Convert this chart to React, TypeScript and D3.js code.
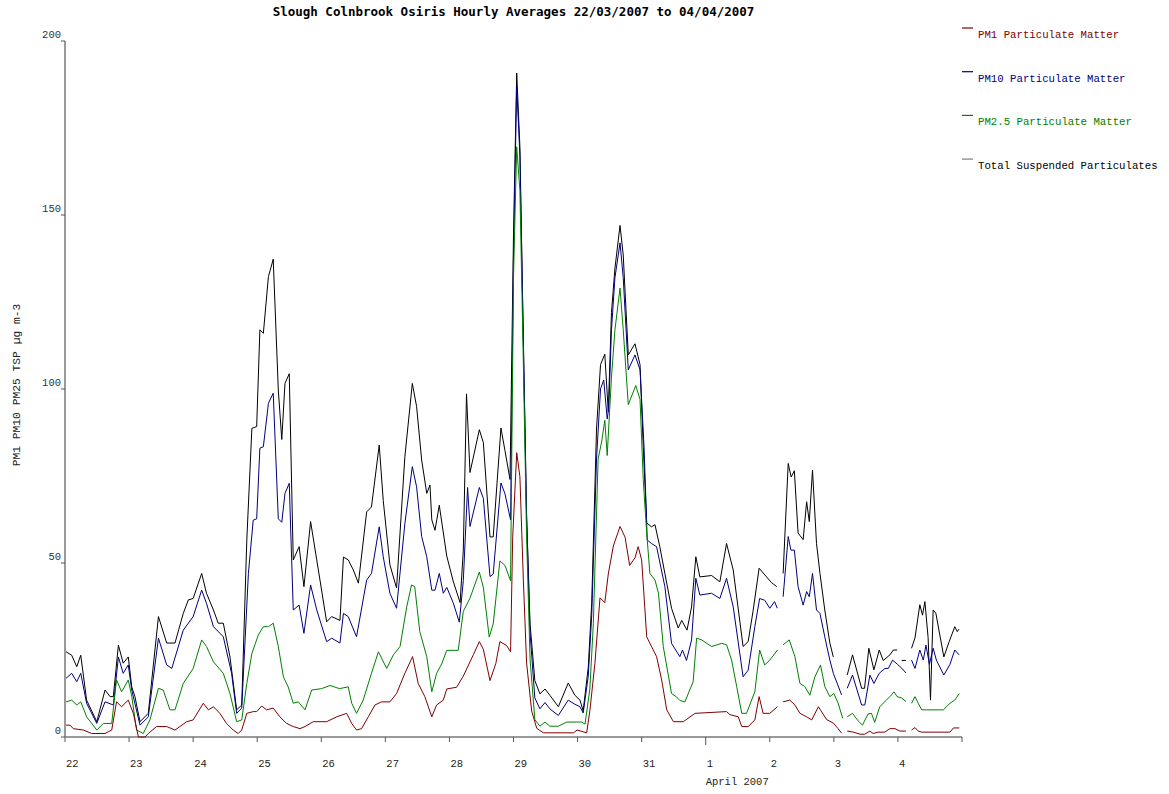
import React from "react";
import * as d3 from "d3";

type Pt = [number, number | null];

// hours since 22/03/2007 00:00, value in µg m-3 (null = gap)
const tspData: Pt[] = [
  [0.4, 24.5], [2.5, 23.5], [4.4, 20.2], [5.9, 23.5], [8.1, 10.6], [11.9, 4.4], [15, 13.5], [16.9, 11.6], [18.1, 11.6],
  [20, 26.4], [21.8, 21.2], [23.7, 23], [25, 14.4], [26.2, 11.6], [28.1, 4.4], [31.2, 6.8], [35, 34.6], [38.1, 27],
  [41.2, 27], [44.3, 35.5], [46.2, 39.4], [48, 39.8], [51.2, 47], [53, 41.3], [55.6, 36.5], [57.4, 32.7], [59.3, 32.7],
  [61.8, 23], [64.3, 7.8], [66.2, 9.2], [68.1, 56.6], [70, 88.7], [71.8, 89.2], [73, 117], [74.3, 116], [76.2, 132.3],
  [78, 137.3], [79.9, 99.7], [81.2, 85.5], [82.4, 101.6], [84, 104.4], [85.5, 50.9], [87.7, 54.7], [89.5, 43.2],
  [92, 61.9], [94.3, 50.9], [98, 33.1], [99.9, 34.6], [103, 33.5], [104.3, 51.7], [106.1, 50.9], [108, 48],
  [109.9, 44.2], [113, 64.7], [114.8, 66.1], [117.7, 83.9], [119.2, 68], [121.7, 49.5], [124.2, 42.8], [127.3, 80.5],
  [130.1, 101.6], [131.7, 95], [133.6, 79.6], [135.5, 70], [136.7, 72.4], [137.4, 62.4], [138.6, 59.4], [140.2, 66.6],
  [143, 52], [145.4, 44.8], [148, 38.6], [149.2, 53.7], [150.4, 98.6], [151.7, 76], [155.2, 88.3], [156.7, 84.6],
  [159.2, 57.5], [160.4, 57.5], [163.3, 88.8], [164.8, 82.3], [166.7, 74], [168, 144.6], [169.2, 190.8], [170.4, 169.5],
  [171.7, 113.5], [172.9, 63.6], [174.2, 32.5], [176, 16.2], [177.9, 12.4], [179.8, 13.8], [181.6, 12], [184.8, 8.7],
  [188.5, 15.5], [191, 12], [192.9, 10.6], [194.1, 7.5], [196, 20], [197.3, 38.6], [199.1, 88.5], [200.6, 107],
  [202.2, 110], [203.5, 93.5], [204.7, 122], [206, 134.7], [207.9, 147], [209.1, 138.5], [211, 109.8], [213.5, 113],
  [215.4, 107], [216.6, 83.4], [217.9, 61.5], [219.7, 60.4], [221, 61], [222.8, 54.7], [224.7, 47], [227.2, 37],
  [229.7, 31.3], [231, 33.5], [233, 30.7], [234.7, 37.4], [236.3, 51.8], [237.8, 46], [242.2, 46.4], [245.3, 44.6],
  [247.8, 55.6], [250.3, 48], [254, 26], [255.9, 27.4], [257.8, 36.5], [260, 48.5], [262.8, 46], [264.6, 44.4],
  [266.6, 43.2], [267.8, null], [269, 47], [270.9, 78.6], [272, 74.7], [273.2, 76.5], [274.6, 58.6], [276.5, 56.7],
  [277.8, 67.6], [278.8, 61.9], [280, 76.7], [281.5, 55.6], [282.8, 47], [284.6, 36.5], [286.5, 27], [287.8, 23],
  [290, null], [293, 17.8], [295, 23.6], [298.4, 14], [299.5, 14], [301.1, 25.5], [303, 19.3], [305, 25], [306.5, 22],
  [309, 23.6], [310.3, 25], [311.7, 25], [312.6, null], [313.4, 22], [315, 22], [316, null], [317.1, 25.5],
  [318.4, 28.5], [320.2, 38], [321.2, 35], [322.1, 38.9], [323.3, 28.6], [324.2, 10.6], [325.2, 36.5], [326.2, 35.6],
  [329.2, 23], [331.2, 27.4], [333.3, 31.7], [334.2, 30.3], [334.9, 31],
];

const pm10Data: Pt[] = [
  [0.4, 16.9], [2.5, 18.3], [4.4, 15.9], [5.9, 18.3], [8.1, 9.7], [11.9, 3.9], [15, 10.1], [18.1, 9.2], [20, 23],
  [21.8, 18.3], [23.7, 20.7], [25, 13.5], [28.1, 3.4], [31.2, 5.8], [35, 28.4], [38.1, 20.7], [40, 19.7], [44.3, 30.7],
  [48, 34.6], [51.2, 42.2], [53, 38.4], [55.6, 31.7], [59.3, 28.8], [62.4, 18.3], [64.3, 6.8], [66.2, 8.3], [68.7, 47],
  [70.5, 62.3], [71.8, 62.7], [73, 83], [74.3, 83.4], [76.2, 95.9], [78, 98.8], [79.9, 62.7], [81.2, 61.7], [82.4, 70],
  [84, 72.9], [85.5, 36.5], [87.7, 37.9], [89.5, 29.8], [92, 43.7], [94.3, 36.5], [98, 27.4], [99.9, 28.4], [103, 27],
  [104.3, 35.5], [106.1, 34.6], [109.2, 28.8], [113, 45.1], [114.8, 47], [117.7, 60.4], [119.2, 51.8], [121.7, 41.3],
  [124.2, 37], [127.3, 61.3], [130.1, 77.7], [131.7, 71.9], [133.6, 57.6], [135.5, 51.8], [137.4, 42.2], [138.6, 42.2],
  [140.2, 47], [141.7, 41.3], [143, 43], [145.4, 38.6], [147.7, 33], [149.2, 44.9], [150.8, 71.7], [151.7, 60.5],
  [155.2, 71.7], [156.7, 68.6], [159.2, 46.1], [160.4, 46.8], [163.3, 73], [164.8, 69.9], [166.9, 62.4], [168, 138.5],
  [169.2, 187], [170.4, 167], [171.7, 113.5], [172.9, 63.6], [174.2, 29.9], [176, 11.2], [177.9, 8.1], [179.8, 9.9],
  [181.6, 8.1], [184.8, 6.2], [188.5, 10.6], [191, 9.4], [192.9, 8.7], [194.1, 6.9], [196, 17.5], [197.3, 35],
  [199.1, 79.9], [200.6, 100], [201.8, 102.6], [203.1, 91.4], [203.7, 94.8], [204.7, 117], [206, 132], [207.9, 142],
  [209.1, 132], [211, 105.5], [213.5, 109.8], [215.4, 105.5], [216.9, 83.4], [218.1, 56.6], [219.7, 55.6],
  [221.6, 54.7], [224.7, 43.2], [227.2, 26.9], [230.3, 23.1], [231.3, 25], [232.8, 22], [234.7, 27.9], [236.3, 45.6],
  [237.8, 40.8], [242.2, 41.3], [245.3, 39.8], [247.8, 45.6], [250.3, 37.4], [254, 17.3], [255.9, 19.2], [258.4, 31.7],
  [260.2, 39.8], [262.1, 39.3], [264, 37], [265.8, 38.9], [266.8, 37], [268, null], [269, 40.3], [270.9, 57.6],
  [271.9, 53.7], [273.2, 53.7], [274.6, 43.2], [276.5, 37.9], [277.8, 41.8], [278.8, 40.3], [280, 47], [281.5, 36.5],
  [282.8, 35.5], [284.6, 28.8], [286.5, 22.1], [287.8, 18.3], [290.9, 12.1], [292, null], [293, 14], [295, 17.8],
  [298.4, 9.2], [299.6, 9.2], [301.5, 17.8], [303, 15.4], [305, 18.3], [307.1, 19.7], [308.4, 19.7], [310, 22.1],
  [311.8, 20.9], [313.4, 19.8], [315, 18.4], [316, null], [317.1, 22.1], [318.4, 19.7], [320.2, 25], [321.5, 22.1],
  [322.5, 26.4], [323.8, 20.9], [325.2, 25.5], [326.4, 22.1], [329.2, 17.8], [331.5, 20.9], [333.3, 25], [334.9, 23.6],
];

const pm25Data: Pt[] = [
  [0.4, 10.1], [2.5, 10.6], [4.4, 9.2], [5.9, 10.1], [8.1, 5.8], [11.9, 2], [14.4, 3.9], [17.5, 3.9], [19.3, 16.4],
  [21.2, 13], [23.7, 16.4], [25, 11.7], [26.8, 2], [29.3, 1], [31.8, 4.9], [35, 14], [36.8, 13.5], [39.3, 7.8],
  [41.2, 7.8], [44.3, 15.4], [48, 19.7], [51.2, 27.9], [53, 26], [55.6, 21.6], [59.3, 18.3], [61.8, 12.5], [64.3, 4.4],
  [66.2, 4.9], [68.1, 15.4], [70, 24], [72.4, 29.3], [74.3, 31.7], [76.2, 31.7], [78, 32.7], [79.9, 26], [81.8, 17.3],
  [83.6, 14.4], [85.5, 9.7], [87.4, 10.1], [89.9, 7.8], [92.4, 13.5], [96.1, 13.9], [99.3, 14.8], [102.8, 13.9],
  [106.1, 14.4], [107.4, 9.7], [109.2, 6.8], [111.7, 10.6], [114.8, 18.3], [117.4, 24.5], [120.5, 19.7], [123, 23.6],
  [125.5, 26], [128, 37.4], [129.8, 43.7], [131, 43.2], [132.9, 30.3], [135.5, 23.1], [137.4, 13], [139.2, 18.3],
  [141.1, 21], [143, 24.9], [147.3, 24.9], [149.2, 36.1], [151.7, 39.9], [155.2, 47.4], [156.7, 43], [158.9, 28.7],
  [160.4, 32.5], [162.9, 50.6], [164.8, 49.3], [166.9, 44.9], [168, 132], [169.2, 169.6], [170.4, 157], [171.7, 107],
  [172.9, 57.4], [174.2, 22.4], [176, 5], [177.9, 3.1], [179.8, 4.3], [181.6, 3.1], [184.8, 3.1], [188, 4.3],
  [191.6, 4.3], [193.5, 4.3], [194.8, 3.7], [196.6, 13.8], [197.9, 32.5], [199.7, 79.9], [201, 84.8], [202.2, 91],
  [203.1, 80.9], [204.7, 103.4], [206, 117], [207.9, 129], [209.1, 117], [211, 95.5], [213.8, 101], [215.4, 97],
  [216.6, 73.9], [217.9, 58.5], [219.1, 47], [221, 45.1], [222.3, 41.3], [224.1, 26], [227.2, 12.5], [229.1, 11.5],
  [230.3, 10.5], [232.2, 10.1], [235.3, 15.9], [236.6, 28.4], [238.5, 27.9], [242.2, 26], [246, 26.9], [247.8, 26.5],
  [249.7, 22.1], [251.6, 14.5], [253.5, 6.8], [255.3, 6.8], [258.4, 13], [260.2, 25], [262.1, 20.7], [264, 22.1],
  [266.9, 25], [268, null], [269, 26.5], [271.3, 27.9], [273.4, 23.1], [275.3, 15.4], [277.1, 14.5], [279, 12],
  [280.9, 17.3], [283, 20.7], [284.6, 14.5], [286.5, 11.6], [288, 12.5], [289.6, 9.7], [291.3, 5.4], [292.2, null],
  [293, 5.8], [295, 6.8], [296.8, 4.9], [298.7, 3.4], [300.8, 6.6], [302.1, 6.8], [303.3, 4.2], [305.2, 8.7],
  [307.7, 10.6], [309.6, 12.1], [310.5, 13], [311.7, 11.6], [313.4, 11.2], [315, 10.2], [316, null], [317.1, 9.7],
  [318.4, 11.6], [319.6, 9.7], [320.9, 7.8], [322.7, 7.8], [329, 7.8], [331.5, 9.7], [333.3, 10.6], [335, 12.5],
];

const pm1Data: Pt[] = [
  [0.4, 3.4], [1.9, 3.4], [3.1, 2.4], [6.9, 2], [10, 1], [15, 1], [16.2, 1.5], [17.5, 2], [19.3, 10.1], [21.2, 8.7],
  [23.7, 10.6], [25.6, 6.8], [27.5, 0], [30, 0], [31.2, 1], [34.3, 3], [38.1, 3], [41.2, 2], [45.6, 4.4], [48, 4.9],
  [51.8, 9.7], [53.7, 7.8], [55.6, 8.7], [58, 6.8], [60.5, 3.9], [63, 2], [64.9, 1], [66.2, 2], [68.1, 6.8],
  [70.5, 7.3], [71.8, 7.3], [73.7, 8.9], [75.5, 7.8], [78, 8.3], [80.5, 5.8], [83, 3.9], [85.5, 3], [88, 2.4],
  [89.9, 3], [93, 4.4], [98, 4.4], [101.8, 5.8], [105.5, 6.8], [107.4, 3.9], [109.2, 2], [111.1, 2.4], [113.6, 5.8],
  [116.1, 9.2], [118.6, 10.1], [121.7, 10.1], [124.2, 12.5], [127.3, 18.3], [130.2, 23.1], [132.3, 15.4],
  [134.8, 11.6], [137.4, 5.8], [139.2, 9.2], [141.7, 10.6], [143, 13.8], [146.7, 14.3], [149.2, 17.5], [153, 23.7],
  [155.2, 27.4], [156.7, 25.2], [159.2, 16.2], [161.4, 21.2], [162.9, 27.4], [165.4, 26.3], [166.9, 24.5],
  [167.7, 57.4], [169.2, 81.7], [170.4, 74.8], [171.7, 44.9], [172.9, 21.3], [174.8, 7.5], [176.7, 2.5], [179.2, 1.2],
  [190.5, 1.2], [191.8, 2], [195.4, 1.2], [196.6, 7.5], [198.5, 21.2], [200.4, 40], [202.2, 38.6], [203.5, 46.8],
  [205.4, 54.9], [207.9, 60.5], [209.8, 57.4], [211.5, 49.3], [213.5, 51.5], [214.7, 54.7], [216, 50.9], [217.9, 28.8],
  [219.7, 26], [221.6, 23.1], [223.5, 16.4], [225.4, 7.8], [227.9, 4.4], [231.6, 4.4], [236, 6.8], [247.8, 7.3],
  [249.1, 6.4], [252.2, 5.8], [253.5, 3], [255.9, 3], [258.4, 4.9], [260, 11.6], [261.5, 6.8], [264, 6.8],
  [266.9, 8.7], [268, null], [269, 10.1], [271.5, 10.6], [273.4, 9.2], [275.3, 6.8], [277.8, 5.8], [279.7, 4.9],
  [282.2, 8.7], [285.3, 5], [287.8, 4], [289.6, 2.4], [290.9, 1.1], [292, null], [293, 1.7], [295.3, 1.4],
  [297.8, 0.8], [299.6, 0.8], [301.5, 1.7], [302.7, 1], [304.6, 1.4], [307.1, 1.4], [309, 2.4], [310.9, 2.4],
  [312.8, 1.7], [315, 1.7], [316, null], [317.1, 2], [318.4, 2.7], [319.6, 1.7], [320.9, 1.4], [331.5, 1.4],
  [332.8, 2.6], [335, 2.6],
];

const seriesNames = ["PM1 Particulate Matter", "PM10 Particulate Matter", "PM2.5 Particulate Matter", "Total Suspended Particulates"];
const seriesColors = ["#800000", "#000080", "#008000", "#000000"];
const swatchColors = ["#800000", "#000080", "#008000", "#808080"];
const textColors = ["#800000", "#000080", "#008000", "#000000"];
const yTicks = [0, 50, 100, 150, 200];
const titleText = "Slough Colnbrook Osiris Hourly Averages 22/03/2007 to 04/04/2007";
const yTitle = "PM1 PM10 PM25 TSP µg m-3";
const monthLabel = "April 2007";

const startDate = new Date(Date.UTC(2007, 2, 22));
const endDate = new Date(Date.UTC(2007, 3, 5));

export default function App() {
  const W = 1169, H = 794;
  const left = 65, right = 962, top = 41, bottom = 737;
  const x = d3.scaleUtc().domain([startDate, endDate]).range([left, right]);
  const y = d3.scaleLinear().domain([0, 200]).range([bottom, top]);
  const toDate = (h: number) => new Date(startDate.getTime() + h * 3600000);

  const line = d3
    .line<Pt>()
    .defined((d) => d[1] !== null)
    .x((d) => x(toDate(d[0])))
    .y((d) => y(Math.max(0, d[1] as number)));

  const allSeries = [pm1Data, pm10Data, pm25Data, tspData];
  const drawOrder = [3, 1, 2, 0];
  const days = d3.utcDay.range(startDate, d3.utcDay.offset(endDate, 1));
  const mono = "'Liberation Mono', 'Courier New', monospace";

  return (
    <svg width={W} height={H} style={{ position: "absolute", left: 0, top: 0, background: "#fff" }}>
      <rect x={0} y={0} width={W} height={H} fill="#fff" />
      <text x={(left + right) / 2} y={15.5} textAnchor="middle" fontFamily="'DejaVu Sans Mono', monospace" fontWeight="bold" fontSize={12.5} fill="#000">
        {titleText}
      </text>
      {/* axes */}
      <line x1={left} x2={left} y1={top} y2={bottom} stroke="#555" strokeWidth={1.2} />
      <line x1={left} x2={right} y1={bottom} y2={bottom} stroke="#777" strokeWidth={1.5} />
      {yTicks.map((t) => (
        <g key={t}>
          <line x1={left - 4} x2={left} y1={y(t)} y2={y(t)} stroke="#555" />
          <text x={left - 4} y={y(t) - 3} textAnchor="end" fontFamily={mono} fontSize={10.5} fill="#333">
            {t}
          </text>
        </g>
      ))}
      {days.map((d, i) => {
        const isMonth = d.getUTCDate() === 1;
        const isLast = d.getTime() === endDate.getTime();
        return (
          <g key={i}>
            <line x1={x(d)} x2={x(d)} y1={bottom} y2={bottom + (isMonth ? 8 : 5)} stroke="#555" />
            {!isLast && (
              <text x={x(d) + 1} y={767} fontFamily={mono} fontSize={10.5} fill="#222">
                {d.getUTCDate()}
              </text>
            )}
          </g>
        );
      })}
      <text x={x(new Date(Date.UTC(2007, 3, 1)))} y={785} fontFamily={mono} fontSize={10.5} fill="#222">
        {monthLabel}
      </text>
      <text transform={`translate(20, 385) rotate(-90)`} textAnchor="middle" fontFamily={mono} fontSize={11.3} fill="#222">
        {yTitle}
      </text>
      {/* series */}
      {drawOrder.map((i) => (
        <path key={i} d={line(allSeries[i]) || ""} fill="none" stroke={seriesColors[i]} strokeWidth={1} strokeLinejoin="round" />
      ))}
      {/* legend */}
      {seriesNames.map((n, i) => (
        <g key={n}>
          <line x1={962} x2={973} y1={28 + i * 43.7} y2={28 + i * 43.7} stroke={swatchColors[i]} strokeWidth={1.2} />
          <text x={978} y={38 + i * 43.7} fontFamily={mono} fontSize={10.7} fill={textColors[i]}>
            {n}
          </text>
        </g>
      ))}
    </svg>
  );
}
